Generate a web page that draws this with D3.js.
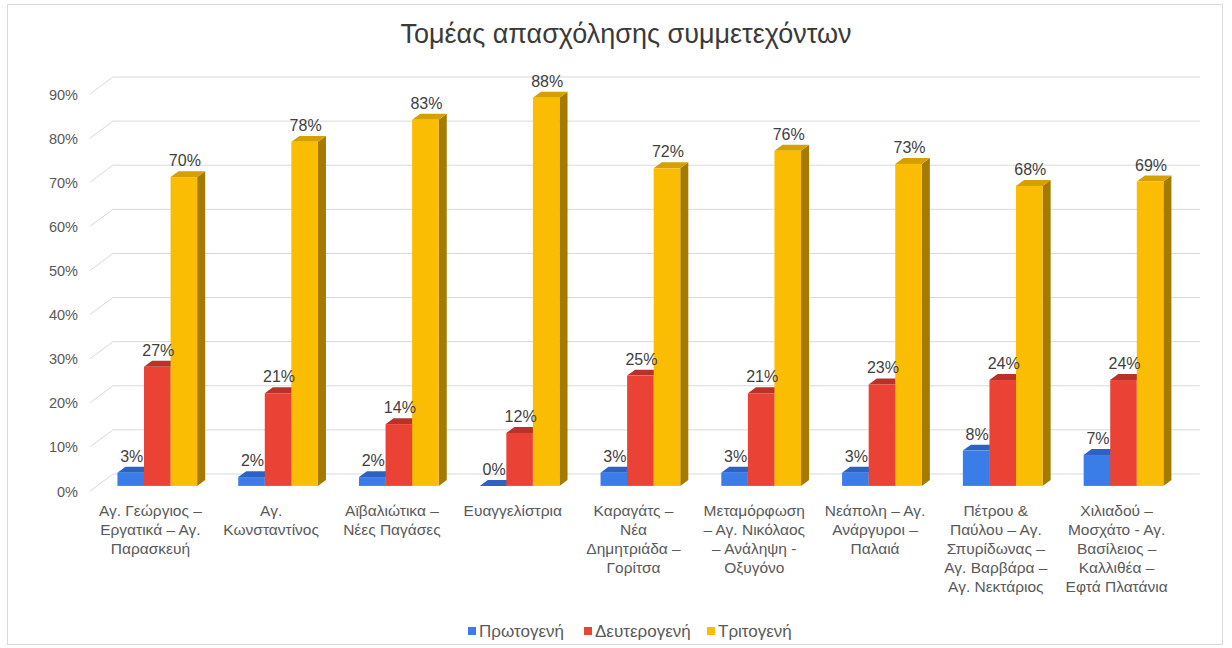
<!DOCTYPE html>
<html>
<head>
<meta charset="utf-8">
<script src="https://cdn.jsdelivr.net/npm/d3@7"></script>
<style>
  html, body { margin: 0; padding: 0; background: #ffffff; }
  svg text { font-family: "Liberation Sans", Arial, sans-serif; }
</style>
</head>
<body>
<div id="chart"></div>
<script>
// Τομέας απασχόλησης συμμετεχόντων - pseudo-3D clustered columns

const CATEGORIES = [
  "Αγ. Γεώργιος –\nΕργατικά – Αγ.\nΠαρασκευή",
  "Αγ.\nΚωνσταντίνος",
  "Αϊβαλιώτικα –\nΝέες Παγάσες",
  "Ευαγγελίστρια",
  "Καραγάτς –\nΝέα\nΔημητριάδα –\nΓορίτσα",
  "Μεταμόρφωση\n– Αγ. Νικόλαος\n– Ανάληψη -\nΟξυγόνο",
  "Νεάπολη – Αγ.\nΑνάργυροι –\nΠαλαιά",
  "Πέτρου &\nΠαύλου – Αγ.\nΣπυρίδωνας –\nΑγ. Βαρβάρα –\nΑγ. Νεκτάριος",
  "Χιλιαδού –\nΜοσχάτο - Αγ.\nΒασίλειος –\nΚαλλιθέα –\nΕφτά Πλατάνια"
];
const SERIES = ["Πρωτογενή", "Δευτερογενή", "Τριτογενή"];
const PRIMARY   = [3, 2, 2, 0, 3, 3, 3, 8, 7];
const SECONDARY = [27, 21, 14, 12, 25, 21, 23, 24, 24];
const TERTIARY  = [70, 78, 83, 88, 72, 76, 73, 68, 69];
const Y_TICKS = [0, 10, 20, 30, 40, 50, 60, 70, 80, 90];

// front / top / side shades per series
const COLORS = [
  { front: "#3b7de8", top: "#2c62c4", side: "#23509f" },
  { front: "#ea4335", top: "#b8322a", side: "#98261f" },
  { front: "#fbbc04", top: "#d6a000", side: "#a47b00" }
];

const W = 1232, H = 648;
const DX = -23, DY = 17;      // wall depth offset (back -> front)
const Z_FRONT = 0.70, Z_BACK = 0.35;

function proj(x, y, z){ return [x + DX*z, y + DY*z]; }
function poly(pts){ return pts.map(p => p.join(",")).join(" "); }

const svg = d3.select("#chart").append("svg")
  .attr("width", W).attr("height", H);

// outer border
svg.append("rect")
  .attr("x", 7.5).attr("y", 4.5)
  .attr("width", 1215).attr("height", 640)
  .attr("fill", "#ffffff").attr("stroke", "#d9d9d9");

svg.append("text")
  .attr("x", 626).attr("y", 43)
  .attr("text-anchor", "middle")
  .attr("font-size", 27)
  .attr("fill", "#3a3a3a")
  .text("Τομέας απασχόλησης συμμετεχόντων");

const y = d3.scaleLinear().domain([0, 90]).range([474, 77]);
const x = d3.scaleBand().domain(d3.range(CATEGORIES.length)).range([113, 1200]);
const bw = x.bandwidth();
const xs = d3.scaleBand().domain(d3.range(SERIES.length)).range([bw*0.17, bw*0.83]);

// gridlines on back wall + left side wall
const grid = svg.append("g").attr("stroke", "#d9d9d9").attr("fill", "none");
Y_TICKS.forEach(v => {
  const yy = y(v);
  const [fx, fy] = proj(113, yy, 1);
  grid.append("polyline")
    .attr("points", poly([[fx, fy], [113, yy], [1200, yy]]));
});

svg.append("g").selectAll("text")
  .data(Y_TICKS).enter().append("text")
  .attr("x", 78)
  .attr("y", d => y(d) + DY + 0.5)
  .attr("dy", "0.35em")
  .attr("text-anchor", "end")
  .attr("font-size", 14.5)
  .attr("fill", "#595959")
  .text(d => d + "%");

// bars
const values = [PRIMARY, SECONDARY, TERTIARY];
const bars = svg.append("g");
const labels = [];
CATEGORIES.forEach((c, i) => {
  SERIES.forEach((s, k) => {
    const v = values[k][i];
    const x0 = x(i) + xs(k), x1 = x0 + xs.bandwidth();
    const yv = y(v), y0 = y(0);
    const col = COLORS[k];
    bars.append("polygon").attr("fill", col.side)
      .attr("points", poly([proj(x1,yv,Z_FRONT), proj(x1,y0,Z_FRONT), proj(x1,y0,Z_BACK), proj(x1,yv,Z_BACK)]));
    bars.append("polygon").attr("fill", col.top)
      .attr("points", poly([proj(x0,yv,Z_FRONT), proj(x1,yv,Z_FRONT), proj(x1,yv,Z_BACK), proj(x0,yv,Z_BACK)]));
    const [fx0, fy] = proj(x0, yv, Z_FRONT);
    const [fx1, fb] = proj(x1, y0, Z_FRONT);
    bars.append("rect").attr("fill", col.front)
      .attr("x", fx0).attr("y", fy)
      .attr("width", fx1 - fx0).attr("height", Math.max(0, fb - fy));
    labels.push({ x: (fx0 + fx1)/2 + 1, y: fy - 11, t: v + "%" });
  });
});

svg.append("g").selectAll("text")
  .data(labels).enter().append("text")
  .attr("x", d => d.x).attr("y", d => d.y)
  .attr("text-anchor", "middle")
  .attr("font-size", 16)
  .attr("fill", "#404040")
  .text(d => d.t);

// category labels at front floor edge
const cat = svg.append("g");
CATEGORIES.forEach((c, i) => {
  const [cx] = proj(x(i) + bw/2, y(0), 1);
  const t = cat.append("text")
    .attr("x", cx).attr("y", 516)
    .attr("text-anchor", "middle")
    .attr("font-size", 15.5)
    .attr("fill", "#595959");
  c.split("\n").forEach((line, j) => {
    t.append("tspan").attr("x", cx).attr("y", 516 + j*19).text(line);
  });
});

// legend
const legendX = [468, 584, 707];
const leg = svg.append("g");
SERIES.forEach((s, k) => {
  leg.append("rect")
    .attr("x", legendX[k]).attr("y", 627)
    .attr("width", 8).attr("height", 8)
    .attr("fill", COLORS[k].front);
  leg.append("text")
    .attr("x", legendX[k] + 11).attr("y", 637)
    .attr("font-size", 17)
    .attr("fill", "#595959")
    .text(s);
});
</script>
</body>
</html>
